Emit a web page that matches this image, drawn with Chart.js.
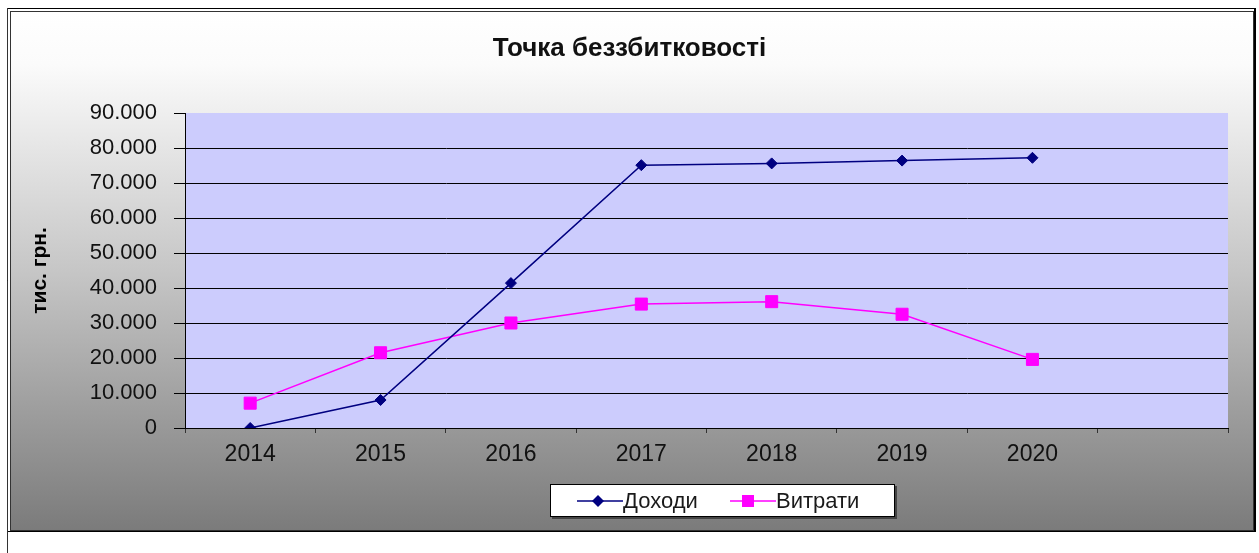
<!DOCTYPE html>
<html>
<head>
<meta charset="utf-8">
<script src="https://cdn.jsdelivr.net/npm/chart.js@4"></script>
<style>
  html, body { margin: 0; padding: 0; background: #fff; }
  #wrap { position: relative; width: 1259px; height: 553px; }
  #legend {
    position: absolute; left: 550px; top: 484px; width: 343px; height: 31px;
    background: #fff; border: 1px solid #000; box-shadow: 2px 2px 0 #444;
    font-family: "Liberation Sans", Arial, sans-serif; font-size: 22px; color: #1a1a1a;
  }
  .item { position: absolute; top: 0; height: 31px; display: flex; align-items: center; }
  .item svg { display: block; }
</style>
</head>
<body>
<div id="wrap">
  <canvas id="breakEvenChart" width="1259" height="553"></canvas>
  <div id="legend"></div>
</div>
<script>
// chart data
const years = ["2014", "2015", "2016", "2017", "2018", "2019", "2020", ""];
const incomeValues = [0, 8000, 41400, 75100, 75600, 76400, 77200, null];
const costValues = [7100, 21500, 30000, 35400, 36100, 32500, 19600, null];
const seriesNames = ["Доходи", "Витрати"];
const seriesColors = ["#000080", "#ff00ff"];

// legend drawn as html so the line + marker icon looks like the original
const legendEl = document.getElementById("legend");
legendEl.innerHTML =
  '<div class="item" style="left:26px">' +
  '<svg width="46" height="14"><line x1="0" y1="7" x2="46" y2="7" stroke="' + seriesColors[0] + '" stroke-width="1.5"/>' +
  '<polygon points="21,1 27,7 21,13 15,7" fill="' + seriesColors[0] + '"/></svg>' +
  "<span>" + seriesNames[0] + "</span></div>" +
  '<div class="item" style="left:179px">' +
  '<svg width="46" height="14"><line x1="0" y1="7" x2="46" y2="7" stroke="' + seriesColors[1] + '" stroke-width="1.5"/>' +
  '<rect x="12" y="1" width="12" height="12" fill="' + seriesColors[1] + '"/></svg>' +
  "<span>" + seriesNames[1] + "</span></div>";

const frameBackground = {
  id: "frameBackground",
  beforeDraw(chart) {
    const ctx = chart.ctx;
    ctx.save();
    ctx.fillStyle = "#fff";
    ctx.fillRect(0, 0, chart.width, chart.height);

    const grad = ctx.createLinearGradient(0, 12, 0, 530);
    grad.addColorStop(0, "#ffffff");
    grad.addColorStop(0.1, "#fbfbfb");
    grad.addColorStop(0.5, "#c6c6c6");
    grad.addColorStop(1, "#7b7b7b");
    ctx.fillStyle = grad;
    ctx.fillRect(11, 12, 1243, 519);

    ctx.strokeStyle = "#000";
    ctx.lineWidth = 1;
    ctx.strokeRect(7.5, 8.5, 1247, 523);
    ctx.strokeStyle = "#333";
    ctx.strokeRect(10.5, 11.5, 1243, 519);
    ctx.beginPath();
    ctx.moveTo(7.5, 8);
    ctx.lineTo(7.5, 553);
    ctx.stroke();
    ctx.lineWidth = 2;
    ctx.strokeStyle = "#000";
    ctx.beginPath();
    ctx.moveTo(1255, 8);
    ctx.lineTo(1255, 532);
    ctx.stroke();

    // plot area fill
    const a = chart.chartArea;
    ctx.fillStyle = "#ccccfd";
    ctx.fillRect(a.left, a.top, a.right - a.left, a.bottom - a.top);
    ctx.restore();
  },
};

const ctx = document.getElementById("breakEvenChart").getContext("2d");
new Chart(ctx, {
  type: "line",
  data: {
    labels: years,
    datasets: [
      {
        label: seriesNames[0],
        data: incomeValues,
        borderColor: seriesColors[0],
        backgroundColor: seriesColors[0],
        borderWidth: 1.5,
        pointStyle: "rectRot",
        pointRadius: 5.5,
        pointBorderWidth: 1,
        tension: 0,
      },
      {
        label: seriesNames[1],
        data: costValues,
        borderColor: seriesColors[1],
        backgroundColor: seriesColors[1],
        borderWidth: 1.5,
        pointStyle: "rect",
        pointRadius: 8.5,
        pointBorderWidth: 1,
        tension: 0,
      },
    ],
  },
  options: {
    responsive: false,
    animation: false,
    layout: { padding: { top: 0, left: 0, right: 0, bottom: 85 } },
    plugins: {
      legend: { display: false },
      tooltip: { enabled: false },
      title: {
        display: true,
        text: "Точка беззбитковості",
        color: "#111",
        font: { family: "'Liberation Sans', Arial, sans-serif", size: 26, weight: "bold" },
        padding: { top: 33, bottom: 48.8 },
      },
    },
    scales: {
      x: {
        offset: true,
        grid: {
          offset: true,
          color: "transparent",
          tickColor: "#333",
          tickLength: 5,
        },
        border: { color: "#000", width: 1 },
        ticks: {
          color: "#111",
          padding: 8,
          maxRotation: 0,
          font: { family: "'Liberation Sans', Arial, sans-serif", size: 23 },
        },
        afterFit: (scale) => {
          scale.height = 40;
        },
      },
      y: {
        min: 0,
        max: 90000,
        grid: {
          color: (c) => (c.tick && c.tick.value === 90000 ? "transparent" : "#000"),
          tickColor: "#000",
          tickLength: 11,
        },
        border: { color: "#000", width: 1 },
        ticks: {
          stepSize: 10000,
          padding: 17,
          color: "#111",
          font: { family: "'Liberation Sans', Arial, sans-serif", size: 22 },
          callback: (v) => (v === 0 ? "0" : v / 1000 + ".000"),
        },
        title: {
          display: true,
          text: "тис. грн.",
          color: "#000",
          font: { family: "'Liberation Sans', Arial, sans-serif", size: 21, weight: "bold" },
          padding: { top: 27.4, bottom: 0 },
        },
        afterFit: (scale) => {
          scale.width = 185;
        },
      },
      // empty right-hand spacer so the title centres on the whole frame
      spacer: {
        type: "linear",
        position: "right",
        min: 0,
        max: 1,
        grid: { display: false, drawTicks: false },
        border: { display: false },
        ticks: { display: false },
        afterFit: (scale) => {
          scale.width = 31;
        },
      },
    },
  },
  plugins: [frameBackground],
});
</script>
</body>
</html>
